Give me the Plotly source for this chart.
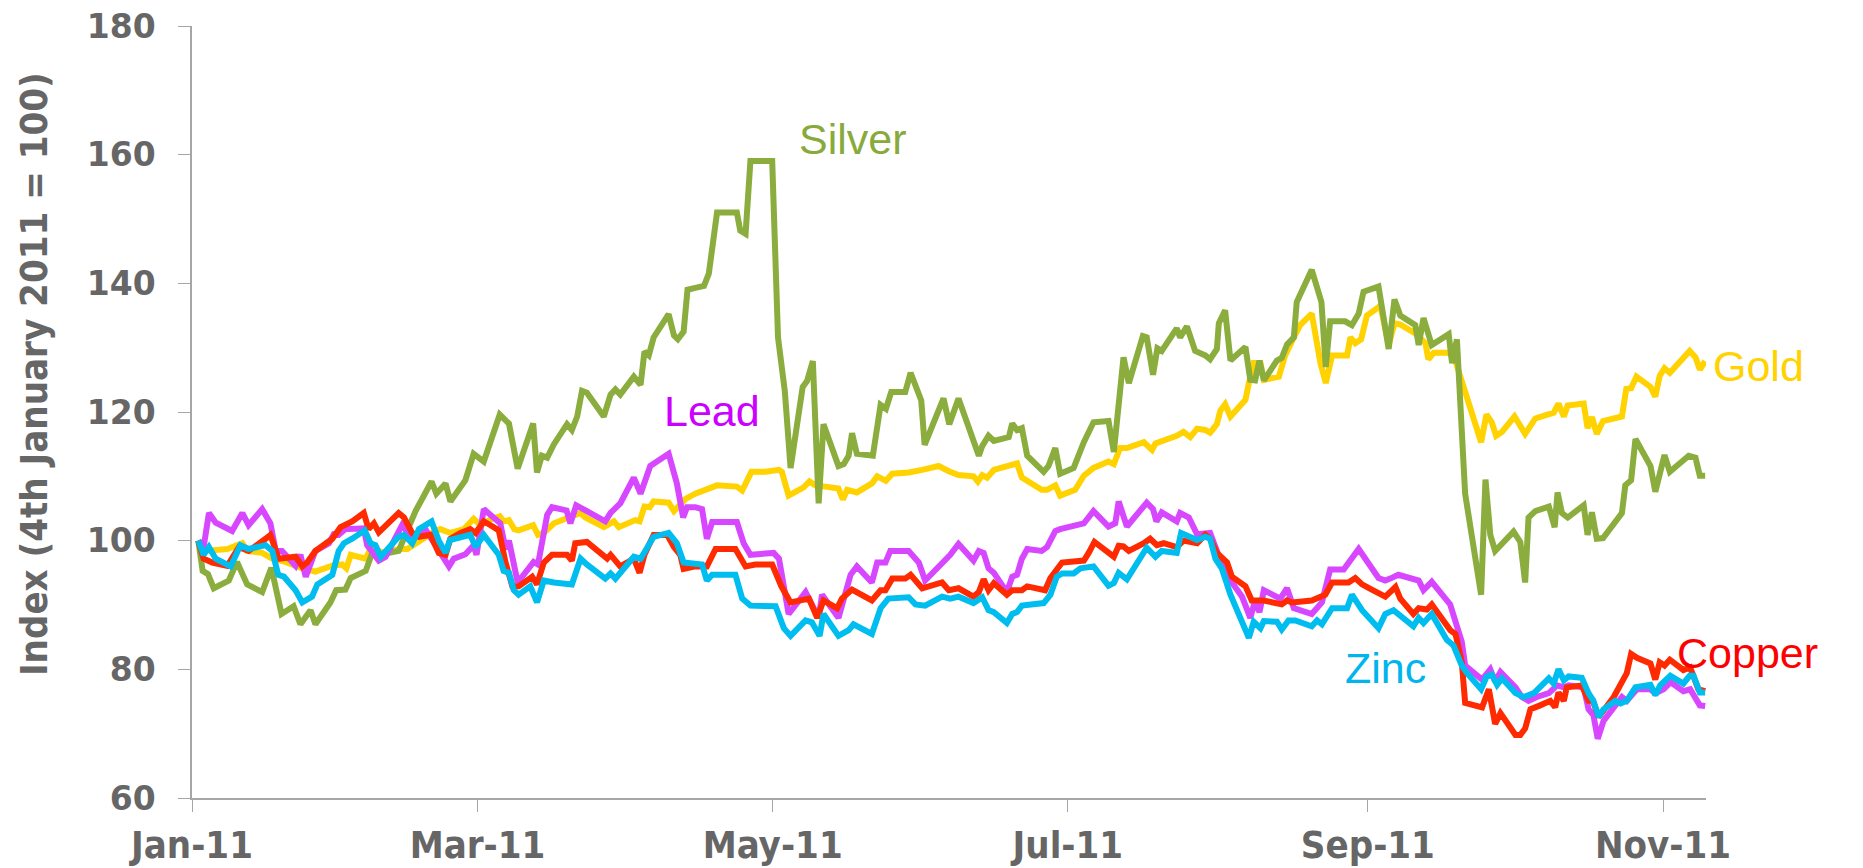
import pandas as pd
import plotly.graph_objects as go

# Day offsets are counted from Monday 3 January 2011; values are the index (4 Jan 2011 = 100)
BASE_DATE = "2011-01-03"

silver_day = [1.3, 2.2, 3.3, 4.5, 7.6, 9.3, 11.4, 14.5, 16.4, 18.5, 21.0, 22.4, 24.5, 25.5, 28.6, 29.8, 31.7, 32.8, 35.9, 37.1,
              40.0, 42.7, 44.1, 46.2, 49.5, 50.5, 52.4, 53.4, 56.5, 58.2, 60.3, 63.6, 65.5, 67.3, 70.5, 71.3, 72.3, 73.4, 74.8, 77.5,
              78.5, 79.6, 80.6, 81.6, 85.1, 86.5, 87.5, 88.5, 91.3, 92.7, 93.5, 94.4, 95.4, 98.5, 99.6, 100.4, 101.6, 102.4, 104.0, 105.8,
              106.8, 108.5, 112.6, 113.3, 114.4, 115.4, 119.9, 121.1, 122.5, 123.7, 126.2, 127.1, 128.3, 129.5, 130.5, 133.6, 134.7, 135.7, 136.4, 137.4,
              140.7, 142.3, 143.4, 144.5, 147.4, 148.5, 150.7, 151.4, 155.3, 156.5, 158.4, 161.2, 162.6, 163.3, 164.6, 165.7, 168.8, 169.5, 170.5, 171.5,
              172.6, 176.0, 177.0, 178.4, 179.4, 182.2, 184.3, 186.3, 189.4, 190.5, 192.5, 193.6, 196.5, 197.3, 198.6, 199.5, 200.4, 203.5, 204.2, 205.6,
              207.3, 209.4, 210.4, 211.8, 212.2, 213.5, 214.6, 217.7, 218.7, 219.7, 220.6, 221.5, 224.2, 225.2, 226.3, 227.7, 228.3, 231.4, 233.4, 234.3,
              235.2, 238.3, 239.7, 241.1, 242.1, 245.2, 247.3, 248.5, 249.7, 252.8, 253.5, 254.5, 256.2, 259.7, 260.4, 261.4, 263.1, 266.4, 267.3, 268.3,
              269.3, 273.1, 274.5, 275.5, 276.2, 277.6, 280.4, 281.6, 282.2, 283.1, 284.3, 287.6, 288.4, 289.3, 290.3, 291.6, 295.5, 296.2, 297.4, 298.3,
              301.4, 302.4, 304.3, 305.4, 309.3, 310.7, 311.6, 312.7]
silver_idx = [100.0, 95.3, 94.8, 92.6, 93.8, 96.7, 93.2, 92.0, 95.8, 88.6, 89.8, 87.0, 89.2, 87.0, 90.4, 92.3, 92.4, 94.2, 95.3, 97.8,
              98.0, 98.4, 100.9, 104.6, 109.2, 107.3, 108.9, 106.1, 109.4, 113.5, 112.3, 119.6, 118.2, 111.2, 118.2, 110.6, 113.2, 112.9, 115.0, 118.1,
              117.2, 119.3, 123.3, 123.0, 119.3, 122.7, 123.5, 122.7, 125.5, 124.2, 129.4, 128.8, 131.6, 135.2, 131.9, 131.3, 132.5, 139.0, 139.3, 139.6,
              141.5, 151.0, 151.0, 148.2, 147.7, 159.0, 159.0, 131.6, 123.3, 111.3, 123.9, 124.8, 127.9, 105.8, 118.1, 111.6, 111.9, 113.2, 116.7, 113.5,
              113.2, 121.1, 120.5, 123.1, 123.1, 126.1, 121.8, 114.9, 122.1, 118.1, 122.1, 116.3, 113.2, 114.7, 116.3, 115.5, 116.1, 118.2, 117.2, 117.5,
              113.2, 110.7, 111.6, 114.4, 110.4, 111.3, 115.3, 118.4, 118.6, 113.8, 128.5, 124.5, 131.8, 131.6, 125.8, 129.9, 129.5, 133.0, 131.6, 133.3,
              129.5, 128.8, 128.2, 129.8, 133.8, 135.8, 128.0, 130.1, 125.0, 124.9, 128.0, 124.9, 128.0, 128.4, 130.5, 131.6, 137.1, 142.1, 137.1, 127.0,
              134.1, 134.1, 133.5, 135.3, 138.7, 139.5, 129.8, 137.5, 135.0, 133.5, 130.4, 134.6, 130.4, 132.1, 127.6, 131.3, 107.3, 91.6, 109.5, 100.9,
              98.4, 101.4, 99.8, 93.5, 103.6, 104.6, 105.3, 102.1, 107.5, 104.3, 103.6, 105.5, 100.9, 104.4, 100.3, 100.4, 104.3, 108.6, 109.4, 115.8,
              111.6, 107.6, 113.3, 110.7, 113.2, 112.9, 110.1, 110.1]

gold_day = [1.3, 2.8, 7.3, 10.4, 11.4, 14.5, 16.6, 19.3, 22.8, 25.5, 29.0, 31.0, 31.9, 32.8, 35.9, 36.9, 40.0, 42.7, 44.5, 46.9,
            49.6, 51.3, 53.4, 56.2, 58.2, 59.6, 61.7, 63.6, 64.4, 65.5, 66.6, 67.5, 70.5, 71.5, 72.7, 74.8, 77.5, 80.3, 81.3, 85.1,
            87.2, 88.2, 91.6, 92.5, 93.5, 94.6, 95.4, 98.5, 99.6, 102.0, 104.0, 105.8, 108.5, 112.6, 113.7, 115.6, 118.5, 121.3, 121.9, 123.3,
            126.4, 127.6, 128.8, 130.9, 133.6, 134.5, 135.4, 137.4, 140.5, 141.6, 143.4, 144.7, 148.1, 150.9, 154.3, 156.4, 158.4, 161.5, 162.4, 163.3,
            164.3, 165.7, 168.4, 170.5, 171.5, 172.6, 175.6, 176.7, 178.4, 179.4, 182.5, 184.3, 186.3, 189.4, 190.5, 191.8, 193.2, 196.7, 198.4, 199.1,
            200.8, 203.5, 204.9, 206.3, 207.7, 209.4, 210.4, 211.8, 212.5, 213.5, 214.6, 217.7, 218.4, 219.4, 220.8, 221.5, 224.6, 225.9, 227.7, 229.0,
            231.4, 233.2, 234.3, 235.6, 238.7, 239.4, 240.4, 241.6, 242.8, 245.6, 247.3, 248.5, 249.7, 252.8, 254.9, 255.5, 256.6, 259.7, 261.1, 262.1,
            263.5, 266.4, 267.5, 268.6, 269.5, 270.7, 273.3, 275.5, 277.6, 280.4, 281.4, 282.4, 283.5, 284.3, 287.6, 288.4, 289.3, 290.3, 291.6, 295.5,
            296.4, 297.4, 298.5, 301.4, 302.4, 303.3, 304.3, 305.4, 309.5, 310.7, 311.6, 312.7]
gold_idx = [100.0, 98.4, 98.7, 99.6, 98.4, 98.1, 97.2, 96.7, 95.7, 95.2, 96.1, 96.3, 95.7, 97.8, 97.2, 98.7, 98.1, 98.7, 98.7, 100.0,
            101.2, 101.8, 101.2, 101.8, 103.4, 102.4, 103.3, 103.8, 103.0, 103.2, 101.8, 101.6, 102.4, 100.9, 101.2, 102.7, 103.4, 104.3, 103.6, 102.1,
            103.0, 102.1, 103.2, 103.0, 105.3, 105.2, 106.1, 105.9, 104.6, 106.5, 107.3, 107.8, 108.6, 108.4, 107.8, 110.7, 110.7, 111.0, 110.7, 107.0,
            108.3, 109.2, 108.6, 108.4, 108.1, 106.4, 107.9, 107.5, 108.9, 110.0, 109.3, 110.4, 110.6, 111.0, 111.6, 110.8, 110.2, 110.0, 109.2, 110.2,
            109.8, 111.0, 111.5, 112.0, 109.8, 109.3, 107.9, 107.9, 108.6, 107.0, 107.9, 110.1, 111.3, 112.3, 111.9, 114.4, 114.4, 115.3, 114.1, 115.1,
            115.5, 116.3, 116.9, 116.1, 117.4, 117.2, 116.8, 118.1, 120.2, 121.2, 119.3, 121.9, 124.5, 127.6, 127.6, 125.0, 125.5, 128.8, 131.6, 133.5,
            135.3, 127.6, 124.5, 128.8, 128.8, 131.6, 130.7, 131.3, 135.0, 136.5, 130.4, 133.8, 133.6, 132.2, 130.7, 128.2, 129.2, 129.2, 127.9, 125.5,
            122.7, 115.3, 119.6, 118.4, 116.3, 116.9, 119.3, 116.6, 119.0, 119.8, 119.9, 121.3, 119.3, 121.0, 121.3, 117.5, 119.2, 116.6, 118.6, 119.3,
            123.6, 123.7, 125.5, 123.9, 122.4, 125.6, 126.8, 126.1, 129.5, 128.5, 126.6, 127.9]

copper_day = [1.3, 2.4, 4.2, 7.3, 9.7, 11.7, 15.2, 16.2, 17.9, 21.4, 22.8, 23.8, 25.5, 29.0, 30.7, 33.1, 35.5, 36.5, 37.6, 38.6,
              42.7, 43.8, 45.5, 46.9, 49.3, 51.0, 52.4, 53.4, 55.5, 57.5, 58.6, 60.3, 61.7, 63.4, 64.8, 66.2, 67.5, 70.3, 71.3, 72.7,
              74.4, 77.5, 78.5, 79.2, 81.6, 84.4, 85.8, 86.5, 88.5, 91.3, 92.5, 93.5, 95.4, 98.2, 99.6, 100.9, 101.6, 104.0, 106.4, 108.2,
              112.3, 114.4, 116.4, 119.9, 120.6, 121.8, 123.7, 127.5, 129.2, 130.5, 133.3, 134.3, 136.4, 140.5, 142.3, 143.3, 144.7, 147.4, 148.5, 150.9,
              155.0, 156.4, 158.4, 161.5, 162.6, 163.6, 164.6, 165.7, 168.4, 169.5, 171.5, 172.6, 176.3, 177.4, 179.8, 182.9, 184.3, 185.3, 186.5, 190.5,
              191.5, 192.5, 193.6, 196.7, 198.0, 199.4, 200.8, 203.5, 204.9, 207.7, 209.4, 210.4, 211.8, 213.9, 214.9, 217.7, 219.0, 221.5, 225.2, 226.3,
              227.3, 231.4, 232.5, 234.2, 235.6, 239.0, 240.4, 241.8, 243.8, 246.6, 248.7, 249.7, 252.4, 253.5, 255.2, 256.2, 260.0, 261.1, 262.4, 263.1,
              266.6, 268.0, 269.3, 270.4, 273.5, 274.5, 275.5, 276.6, 278.6, 280.7, 281.7, 282.4, 283.5, 284.1, 287.2, 288.6, 289.5, 290.7, 293.8, 295.2,
              296.5, 297.4, 298.6, 301.4, 302.4, 303.3, 304.3, 305.4, 308.2, 309.6, 311.3, 312.7]
copper_idx = [100.0, 97.2, 96.6, 96.1, 99.0, 98.4, 100.3, 100.9, 97.2, 97.5, 96.0, 96.6, 98.4, 100.3, 102.1, 103.0, 104.3, 101.8, 102.7, 101.3,
              104.3, 103.6, 101.2, 100.6, 100.9, 98.1, 97.8, 100.3, 101.2, 101.8, 101.2, 103.0, 102.4, 101.6, 96.6, 92.9, 92.9, 94.4, 93.2, 96.6,
              97.8, 97.8, 96.9, 99.6, 99.8, 98.1, 97.2, 97.8, 96.0, 97.2, 95.0, 97.8, 100.9, 100.9, 99.0, 97.8, 95.6, 96.0, 96.0, 98.7,
              98.7, 96.0, 96.3, 96.3, 95.0, 92.9, 90.4, 91.0, 88.0, 90.7, 89.5, 91.0, 92.4, 90.7, 92.3, 92.3, 94.1, 94.1, 94.7, 92.6,
              93.5, 92.3, 92.6, 91.3, 92.0, 94.0, 92.3, 93.4, 91.6, 92.3, 92.3, 92.9, 92.3, 94.2, 96.6, 96.7, 96.9, 98.1, 99.8, 97.5,
              99.2, 99.1, 98.4, 99.6, 100.3, 99.3, 99.6, 99.0, 100.0, 99.6, 100.9, 100.3, 98.1, 96.6, 94.4, 92.9, 90.7, 90.7, 90.1, 90.7,
              90.4, 90.7, 91.0, 91.6, 93.5, 93.5, 94.2, 93.2, 92.4, 91.3, 92.8, 91.0, 88.6, 89.5, 89.3, 90.1, 86.1, 85.5, 81.2, 74.8,
              74.1, 76.9, 71.5, 73.2, 69.8, 69.8, 70.8, 73.8, 74.4, 75.1, 74.1, 76.4, 75.1, 77.2, 77.5, 75.1, 75.1, 72.6, 75.7, 77.5,
              79.4, 82.4, 81.8, 80.9, 78.4, 81.1, 80.6, 81.5, 79.9, 80.3, 76.9, 76.6]

lead_day = [1.3, 2.4, 3.5, 4.9, 8.3, 10.4, 11.7, 14.5, 16.2, 17.3, 18.6, 21.4, 22.4, 23.5, 25.5, 28.3, 29.3, 30.3, 31.7, 35.5,
            36.2, 38.6, 40.0, 43.4, 45.5, 48.2, 53.1, 54.1, 56.5, 58.2, 58.8, 60.3, 63.7, 64.8, 65.5, 67.3, 70.6, 71.5, 73.4, 74.4,
            77.4, 78.2, 79.4, 80.3, 81.6, 85.4, 86.5, 88.5, 91.3, 92.7, 94.7, 98.5, 100.2, 101.5, 102.3, 104.0, 105.4, 106.4, 107.5, 112.6,
            114.0, 115.4, 120.2, 121.3, 123.3, 126.8, 129.5, 130.2, 133.6, 136.1, 137.4, 140.5, 141.6, 143.3, 144.3, 148.1, 150.2, 151.5, 155.0, 156.7,
            158.4, 161.5, 162.6, 163.6, 164.6, 165.7, 168.4, 169.5, 170.5, 171.5, 172.6, 175.6, 176.7, 178.4, 179.4, 182.9, 184.3, 186.3, 189.4, 190.8,
            191.5, 193.2, 197.3, 198.6, 199.3, 200.4, 203.5, 204.2, 206.0, 207.7, 209.4, 210.4, 211.5, 213.2, 214.9, 217.0, 218.7, 219.7, 220.6, 221.5,
            224.9, 226.3, 227.7, 231.4, 233.5, 235.2, 238.0, 239.7, 241.1, 245.2, 246.6, 247.6, 249.3, 253.5, 254.5, 256.2, 260.0, 262.4, 263.1, 266.6,
            268.3, 269.3, 270.4, 273.5, 274.8, 276.2, 277.9, 280.4, 282.1, 283.5, 284.5, 287.6, 288.6, 289.6, 290.5, 291.7, 294.1, 295.5, 296.5, 298.6,
            301.4, 302.4, 304.1, 305.6, 308.2, 309.6, 311.6, 312.7]
lead_idx = [100.0, 99.0, 104.3, 102.8, 101.5, 104.3, 102.4, 104.9, 102.7, 98.4, 98.4, 96.1, 97.8, 94.4, 98.4, 99.6, 101.0, 100.9, 101.8, 101.9,
            99.3, 96.9, 97.5, 102.4, 100.4, 101.8, 96.0, 97.2, 97.9, 99.3, 97.8, 104.9, 102.7, 98.7, 100.0, 93.5, 96.7, 96.3, 104.0, 105.2,
            104.7, 102.7, 105.5, 105.2, 104.6, 103.0, 104.3, 105.8, 109.8, 107.3, 111.6, 113.5, 108.9, 103.6, 105.2, 105.2, 104.9, 100.3, 102.9, 102.9,
            99.6, 97.8, 98.1, 97.2, 88.6, 92.0, 88.0, 91.6, 88.0, 94.7, 96.0, 93.5, 96.6, 96.6, 98.4, 98.4, 96.6, 93.8, 96.3, 97.8,
            99.5, 96.9, 98.4, 98.1, 95.7, 95.0, 92.0, 94.4, 94.7, 97.2, 98.7, 98.4, 99.0, 101.5, 101.8, 102.6, 102.7, 104.6, 102.2, 102.7,
            106.1, 102.2, 105.9, 104.9, 103.0, 104.4, 103.0, 104.3, 103.6, 101.0, 101.2, 101.2, 99.0, 95.7, 93.5, 91.3, 88.0, 90.7, 88.9, 92.3,
            91.0, 92.6, 89.5, 88.6, 90.4, 95.5, 95.5, 97.2, 98.7, 94.2, 93.8, 94.1, 94.7, 93.8, 92.3, 93.6, 90.1, 84.3, 80.6, 78.4,
            80.0, 78.1, 79.6, 77.2, 75.7, 75.1, 75.7, 76.3, 77.5, 77.2, 77.5, 77.2, 73.8, 72.9, 69.2, 72.0, 74.4, 75.7, 75.1, 76.9,
            76.9, 76.3, 76.9, 78.0, 76.6, 76.9, 74.4, 74.3]

zinc_day = [1.3, 2.4, 3.5, 4.9, 8.0, 10.0, 11.7, 15.2, 16.6, 17.8, 19.0, 21.4, 22.8, 24.8, 25.9, 29.0, 30.3, 31.4, 33.1, 35.7,
            36.9, 37.9, 39.0, 42.7, 43.8, 45.5, 46.9, 49.5, 51.0, 52.4, 53.3, 57.5, 58.6, 60.3, 63.4, 64.4, 65.5, 66.5, 67.5, 69.9,
            71.3, 72.7, 74.8, 78.5, 80.3, 81.6, 85.4, 86.5, 87.5, 91.3, 92.7, 95.4, 98.5, 100.2, 101.6, 104.0, 105.4, 106.4, 107.5, 112.3,
            113.7, 115.4, 120.6, 122.3, 123.7, 126.8, 128.1, 129.7, 130.5, 133.6, 135.7, 136.7, 140.5, 142.3, 143.9, 148.1, 149.5, 151.5, 155.0, 156.7,
            158.4, 161.5, 163.3, 164.6, 165.7, 168.4, 169.5, 170.5, 171.5, 176.0, 177.4, 178.7, 179.8, 182.2, 183.6, 186.3, 189.4, 190.5, 191.5, 193.2,
            197.3, 199.1, 200.4, 203.5, 204.4, 207.7, 209.4, 210.4, 211.5, 212.8, 214.6, 218.4, 219.4, 220.8, 221.5, 224.2, 225.2, 226.6, 228.0, 231.4,
            232.5, 233.5, 235.6, 238.7, 239.7, 241.8, 245.2, 246.6, 248.3, 252.4, 253.5, 254.5, 256.2, 259.3, 260.7, 262.4, 263.5, 266.4, 267.5, 268.6,
            269.7, 270.7, 273.5, 275.2, 277.3, 280.4, 281.4, 282.4, 283.5, 284.5, 287.2, 288.6, 289.6, 290.7, 291.7, 294.1, 295.2, 296.5, 298.3, 301.4,
            302.4, 303.4, 305.5, 308.2, 309.5, 310.3, 311.6, 312.7]
zinc_idx = [100.0, 97.8, 99.0, 97.2, 96.0, 99.3, 98.7, 99.3, 98.4, 94.7, 94.4, 92.3, 90.4, 91.3, 93.2, 94.7, 98.4, 99.6, 100.3, 101.6,
            99.6, 99.3, 97.5, 100.6, 100.9, 99.6, 101.8, 103.0, 100.0, 98.1, 100.1, 100.9, 99.0, 100.9, 97.8, 95.3, 95.0, 92.3, 91.6, 92.9,
            90.4, 93.8, 93.5, 93.2, 97.2, 96.3, 94.1, 94.9, 94.1, 97.5, 97.2, 100.6, 101.2, 99.6, 96.6, 96.5, 96.3, 93.8, 94.7, 94.7,
            91.0, 89.9, 89.8, 86.4, 85.2, 87.6, 87.3, 85.2, 88.6, 85.2, 86.1, 87.0, 85.5, 89.5, 91.0, 91.2, 90.1, 89.9, 91.3, 91.0,
            91.3, 90.3, 91.2, 89.2, 88.9, 87.2, 88.6, 88.9, 89.9, 90.3, 91.6, 94.4, 94.9, 94.9, 95.7, 96.0, 93.0, 93.4, 95.0, 94.0,
            98.9, 97.5, 98.4, 98.1, 101.2, 100.1, 100.6, 100.3, 97.2, 95.7, 91.6, 84.9, 87.4, 86.4, 87.5, 87.4, 86.2, 87.6, 87.6, 86.7,
            87.6, 87.0, 89.5, 89.5, 91.6, 89.2, 86.4, 88.6, 89.2, 86.7, 88.0, 87.2, 88.6, 84.6, 83.7, 80.6, 79.4, 76.9, 78.8, 79.2,
            77.6, 78.6, 76.3, 75.7, 76.3, 78.6, 77.8, 80.0, 78.3, 78.9, 78.7, 76.3, 75.1, 72.6, 73.8, 75.1, 74.7, 75.1, 77.2, 77.6,
            76.0, 77.5, 79.0, 77.8, 79.0, 79.0, 76.4, 76.4]

tick_dates = ["2011-01-03", "2011-03-03", "2011-05-03", "2011-07-03", "2011-09-03", "2011-11-03"]
tick_labels = ["Jan-11", "Mar-11", "May-11", "Jul-11", "Sep-11", "Nov-11"]
x_range = ["2011-01-03", "2011-11-11 21:00"]

series = [
    # name, days, values, line colour  (drawn in this order, last on top)
    ("Gold", gold_day, gold_idx, "#FFD200"),
    ("Silver", silver_day, silver_idx, "#8AAD3E"),
    ("Lead", lead_day, lead_idx, "#D647FF"),
    ("Copper", copper_day, copper_idx, "#FF2A00"),
    ("Zinc", zinc_day, zinc_idx, "#00BDF0"),
]

base = pd.Timestamp(BASE_DATE)
fig = go.Figure()
for name, days, vals, col in series:
    x = base + pd.to_timedelta(days, unit="D")
    fig.add_trace(go.Scatter(x=x, y=vals, mode="lines", name=name,
                             line=dict(color=col, width=6), showlegend=False))

GRAY = "#666666"
AXIS = "#A6A6A6"

fig.update_layout(
    width=1863, height=868,
    margin=dict(l=192, r=157, t=26, b=70),
    paper_bgcolor="white", plot_bgcolor="white",
    showlegend=False,
)
fig.update_xaxes(
    type="date", range=x_range, automargin=False,
    tickvals=pd.to_datetime(tick_dates), ticktext=tick_labels,
    ticks="outside", ticklen=12, tickwidth=1.3, tickcolor=AXIS,
    showline=True, linecolor=AXIS, linewidth=1.5,
    showgrid=False, zeroline=False,
    tickfont=dict(family="DejaVu Sans Condensed", size=38, color=GRAY, weight="bold"),
    ticklabelstandoff=1,
)
fig.update_yaxes(
    range=[60, 180], dtick=20, tick0=60, automargin=False,
    ticks="outside", ticklen=12, tickwidth=1.3, tickcolor=AXIS,
    showline=True, linecolor=AXIS, linewidth=1.5,
    showgrid=False, zeroline=False,
    tickfont=dict(family="DejaVu Sans", size=33, color=GRAY, weight="bold"),
    ticklabelstandoff=16,
)

# Y-axis title as a rotated annotation (placed slightly above centre, as in the source)
fig.add_annotation(text="Index (4th January 2011 = 100)", textangle=-90,
                   xref="paper", yref="paper", x=-0.1044, y=0.549,
                   xanchor="center", yanchor="middle", showarrow=False,
                   font=dict(family="DejaVu Sans Condensed", size=38, color=GRAY, weight="bold"))

labels = [
    ("Silver", 0.4366, 0.8536, "center", "#88AA3C"),
    ("Lead", 0.3435, 0.5013, "center", "#CC00FF"),
    ("Gold", 1.0033, 0.5596, "left", "#FFD200"),
    ("Copper", 0.9795, 0.1880, "left", "#FF0000"),
    ("Zinc", 0.7886, 0.1684, "center", "#00B4EE"),
]
for txt, lx, ly, anchor, col in labels:
    fig.add_annotation(text=txt, xref="paper", yref="paper", x=lx, y=ly,
                       xanchor=anchor, yanchor="middle", showarrow=False,
                       font=dict(family="Liberation Sans", size=43, color=col))

# remove the browser's default page margin so the figure sits at the window's top-left corner
fig.write_html("out.html", config={"displayModeBar": False},
               post_script="document.body.style.margin='0px';document.body.style.overflow='hidden';")
